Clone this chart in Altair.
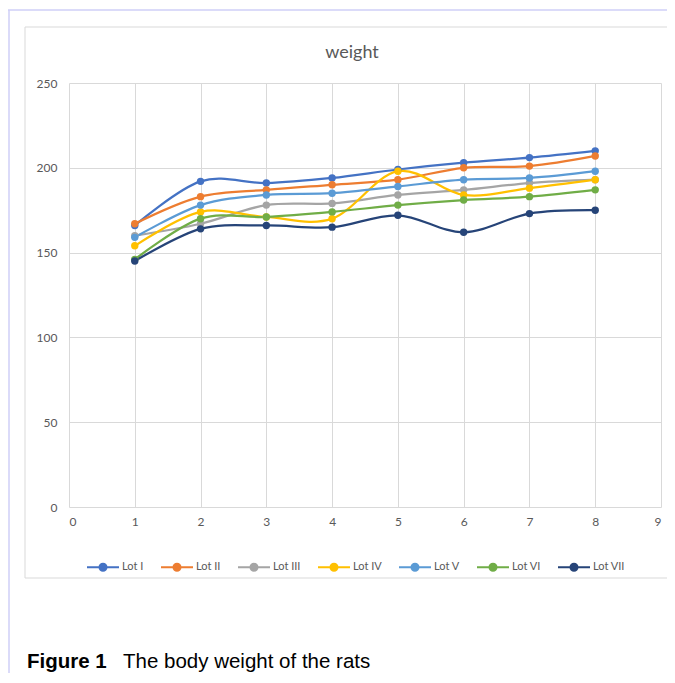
import altair as alt
import pandas as pd

days = [1, 2, 3, 4, 5, 6, 7, 8]
lots = ["Lot I", "Lot II", "Lot III", "Lot IV", "Lot V", "Lot VI", "Lot VII"]
lot1 = [166, 192, 191, 194, 199, 203, 206, 210]
lot2 = [167, 183, 187, 190, 193, 200, 201, 207]
lot3 = [160, 167, 178, 179, 184, 187, 191, 193]
lot4 = [154, 174, 171, 170, 198, 184, 188, 193]
lot5 = [159, 178, 184, 185, 189, 193, 194, 198]
lot6 = [146, 170, 171, 174, 178, 181, 183, 187]
lot7 = [145, 164, 166, 165, 172, 162, 173, 175]
colors = ["#4472C4", "#ED7D31", "#A5A5A5", "#FFC000", "#5B9BD5", "#70AD47", "#264478"]
x_ticks = list(range(0, 10))
y_ticks = [0, 50, 100, 150, 200, 250]

series = [lot1, lot2, lot3, lot4, lot5, lot6, lot7]
rows = []
for name, vals in zip(lots, series):
    for d, v in zip(days, vals):
        rows.append({"day": d, "weight": v, "lot": name})
df = pd.DataFrame(rows)

FONT = "Lato"
GREY = "#595959"

x = alt.X("day:Q", scale=alt.Scale(domain=[0, 9], nice=False),
          axis=alt.Axis(values=x_ticks, title=None, ticks=False, domain=False,
                        grid=True, gridColor="#D9D9D9", labelPadding=9,
                        labelFont=FONT, labelFontSize=12, labelColor=GREY, format="d"))
y = alt.Y("weight:Q", scale=alt.Scale(domain=[0, 250], nice=False),
          axis=alt.Axis(values=y_ticks, title=None, ticks=False, domain=False,
                        grid=True, gridColor="#D9D9D9", labelPadding=12,
                        labelFont=FONT, labelFontSize=12, labelColor=GREY))
color = alt.Color("lot:N", scale=alt.Scale(domain=lots, range=colors),
                  legend=alt.Legend(
                      title=None, orient="none", direction="horizontal",
                      legendX=17, legendY=467, padding=0,
                      symbolType="M-1,0L1,0M-0.22,0A0.22,0.22,0,1,1,0.22,0A0.22,0.22,0,1,1,-0.22,0Z",
                      symbolSize=1024, symbolStrokeWidth=2, labelOffset=2,
                      columnPadding=13, labelFont=FONT, labelFontSize=11,
                      labelColor=GREY))

base = alt.Chart(df)
lines = base.mark_line(interpolate="cardinal", strokeWidth=2.25).encode(x=x, y=y, color=color)
points = base.mark_point(filled=True, size=55, opacity=1).encode(x=x, y=y, color=color)

one = alt.Chart(pd.DataFrame({"a": [0]}))
box_inner = one.mark_rect(fill=None, stroke="#D9D9D9", strokeWidth=1).encode(
    x=alt.value(-44), x2=alt.value(640), y=alt.value(-56), y2=alt.value(495))
lav_top = one.mark_rule(color="#CFCFF7", strokeWidth=1.5).encode(
    x=alt.value(-61), x2=alt.value(640), y=alt.value(-73))
lav_left = one.mark_rule(color="#CFCFF7", strokeWidth=1.5).encode(
    x=alt.value(-60), y=alt.value(-73), y2=alt.value(620))
title = one.mark_text(text="weight", font=FONT, fontSize=18, color=GREY,
                      align="center", baseline="middle").encode(
    x=alt.value(283), y=alt.value(-30))
cap1 = one.mark_text(text="Figure 1", font="Liberation Sans", fontWeight="bold",
                     fontSize=20.5, color="#000000", align="left",
                     baseline="alphabetic").encode(x=alt.value(-42), y=alt.value(584.5))
cap2 = one.mark_text(text="The body weight of the rats", font="Liberation Sans",
                     fontSize=20.5, color="#000000", align="left",
                     baseline="alphabetic").encode(x=alt.value(54), y=alt.value(584.5))

chart = alt.layer(box_inner, lav_top, lav_left, lines, points, title, cap1, cap2).properties(
    width=592, height=424,
    autosize=alt.AutoSizeParams(type="none"),
    padding={"left": 61, "top": 75, "right": 6, "bottom": 166},
).configure_view(stroke=None)

chart.save("out.html", embed_options={"renderer": "svg", "actions": False})
